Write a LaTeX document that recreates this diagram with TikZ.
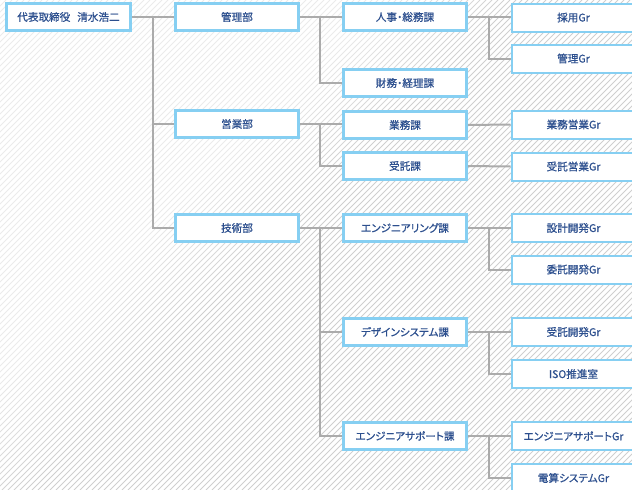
\documentclass[tikz,border=0pt]{standalone}
\usepackage{fontspec}
\newfontfamily\jp[FakeBold=0.7,RawFeature={+palt}]{Noto Sans CJK JP}
\definecolor{bordercol}{HTML}{86CFF2}
\definecolor{txtcol}{HTML}{2C4F8E}
\definecolor{conncol}{HTML}{ABABAB}
\pgfdeclarelayer{fg}
\pgfsetlayers{main,fg}
\tikzset{
  orgbox/.style={draw=bordercol, line width=3pt, fill=white, inner sep=0pt,
    minimum width=123pt, minimum height=27pt, text=txtcol, font=\jp\fontsize{10.6}{12}\selectfont},
  grbox/.style={orgbox, line width=2pt, minimum width=124pt, minimum height=28pt},
  conn/.style={draw=conncol, line width=2pt}
}
\begin{document}
\begin{tikzpicture}[x=1pt,y=-1pt]
\useasboundingbox (0,0) rectangle (632,490);
\begin{scope}
\clip (0,0) rectangle (632,490);
\foreach \c in {0,6,...,1128} {
  \pgfmathsetmacro\t{min(1,max(0,(\c-380)/140))}
  \pgfmathsetmacro\p{8+11*\t}
  \draw[black!\p, line width=0.9pt] (\c,0) -- (\c-490,490);
}
\end{scope}
% coordinates for junctions
\coordinate (j1) at (153,17);
\coordinate (j2) at (320,17);
\coordinate (j3) at (320,124);
\coordinate (j4) at (320,228);
\coordinate (j5) at (489,17);
\coordinate (j6) at (489,228);
\coordinate (j7) at (489,332);
\coordinate (j8) at (489,436);
% nodes
\begin{pgfonlayer}{fg}
\node[orgbox, minimum width=124pt] (ceo) at (68.5,17) {代表取締役\hspace{7pt}清水浩二};
\node[orgbox] (kanri) at (237,17) {管理部};
\node[orgbox] (eigyo) at (237,124) {営業部};
\node[orgbox] (gijutsu) at (237,228) {技術部};
\node[orgbox] (jinji) at (405,17) {人事・総務課};
\node[orgbox] (zaimu) at (405,83) {財務・経理課};
\node[orgbox] (gyomu) at (405,125) {業務課};
\node[orgbox] (jutaku) at (405,166) {受託課};
\node[orgbox] (eng) at (405,228) {エンジニアリング課};
\node[orgbox] (design) at (405,332) {デザインシステム課};
\node[orgbox] (support) at (405,436) {エンジニアサポート課};
\node[grbox] (saiyo) at (573.5,17.5) {採用Gr};
\node[grbox] (kanrigr) at (573.5,58.5) {管理Gr};
\node[grbox] (gyomugr) at (573.5,124.5) {業務営業Gr};
\node[grbox] (jutakugr) at (573.5,166.5) {受託営業Gr};
\node[grbox] (sekkei) at (573.5,228) {設計開発Gr};
\node[grbox] (itaku) at (573.5,269.5) {委託開発Gr};
\node[grbox] (jkaihatsu) at (573.5,332) {受託開発Gr};
\node[grbox] (iso) at (573.5,374) {ISO推進室};
\node[grbox] (supgr) at (573.5,436) {エンジニアサポートGr};
\node[grbox] (densan) at (573.5,478) {電算システムGr};
\end{pgfonlayer}
% connectors (behind nodes)
\path[conn] (ceo.east) -- (kanri.west);
\path[conn] (j1) |- (eigyo.west);
\path[conn] (j1) |- (gijutsu.west);
\path[conn] (kanri.east) -- (jinji.west);
\path[conn] (j2) |- (zaimu.west);
\path[conn] (eigyo.east) -- (j3) -- (gyomu.west |- j3);
\path[conn] (j3) |- (jutaku.west);
\path[conn] (gijutsu.east) -- (eng.west);
\path[conn] (j4) |- (design.west);
\path[conn] (j4) |- (support.west);
\path[conn] (jinji.east) -- (saiyo.west |- jinji.east);
\path[conn] (j5) |- (kanrigr.west);
\path[conn] (gyomu.east) -- (gyomugr.west);
\path[conn] (jutaku.east) -- (jutakugr.west);
\path[conn] (eng.east) -- (sekkei.west);
\path[conn] (j6) |- (itaku.west);
\path[conn] (design.east) -- (jkaihatsu.west);
\path[conn] (j7) |- (iso.west);
\path[conn] (support.east) -- (supgr.west);
\path[conn] (j8) |- (densan.west);
\end{tikzpicture}
\end{document}
